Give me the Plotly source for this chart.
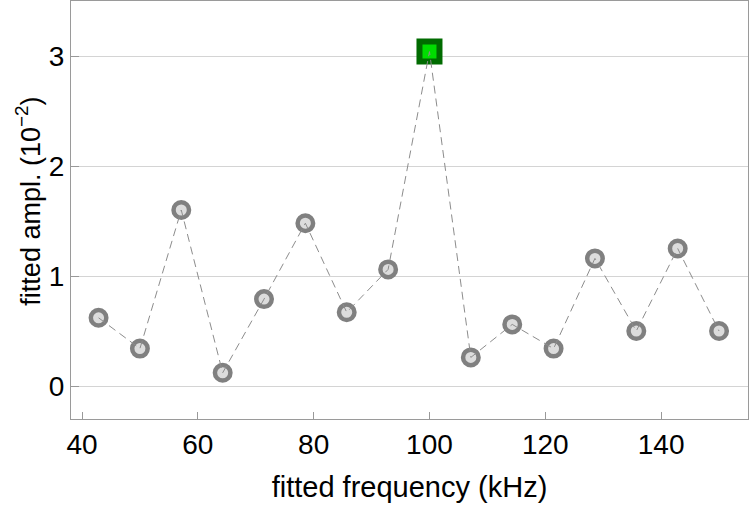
import plotly.graph_objects as go

freq = [42.86, 50.0, 57.14, 64.29, 71.43, 78.57, 85.71, 92.86, 100.0,
        107.14, 114.29, 121.43, 128.57, 135.71, 142.86, 150.0]
ampl = [0.62, 0.34, 1.60, 0.12, 0.79, 1.48, 0.67, 1.06, 3.04,
        0.26, 0.56, 0.34, 1.16, 0.50, 1.25, 0.50]
peak_index = 8
x_ticks = [40, 60, 80, 100, 120, 140]
y_ticks = [0, 1, 2, 3]

others_x = [f for i, f in enumerate(freq) if i != peak_index]
others_y = [a for i, a in enumerate(ampl) if i != peak_index]

fig = go.Figure()
fig.add_trace(go.Scatter(
    x=others_x, y=others_y, mode="markers",
    marker=dict(symbol="circle", size=15.5, color="#dcdcdc",
                line=dict(color="#808080", width=4.5)),
    showlegend=False, hoverinfo="skip"))
fig.add_trace(go.Scatter(
    x=[freq[peak_index]], y=[ampl[peak_index]], mode="markers",
    marker=dict(symbol="square", size=20, color="#00dd00",
                line=dict(color="#006b00", width=6)),
    showlegend=False, hoverinfo="skip"))
fig.add_trace(go.Scatter(
    x=freq, y=ampl, mode="lines",
    line=dict(color="#8c8c8c", width=1, dash="8px,5px"),
    showlegend=False, hoverinfo="skip"))

FAM = "Liberation Sans, Arial, sans-serif"
tick_font = dict(family=FAM, size=28, color="black")
fig.update_layout(
    width=750, height=507,
    margin=dict(l=71, r=2, t=1, b=88),
    paper_bgcolor="white", plot_bgcolor="white",
    font=dict(family=FAM, size=24, color="black"),
    xaxis=dict(range=[38.1, 155.0], tickvals=x_ticks, ticks="inside", ticklen=7,
               tickcolor="#999999", showgrid=False, zeroline=False,
               showline=True, linecolor="#9a9a9a", linewidth=1.2, mirror=True,
               title=dict(text="fitted frequency (kHz)", standoff=17,
                          font=dict(family=FAM, size=29, color="black")),
               tickfont=tick_font),
    yaxis=dict(range=[-0.30, 3.50], tickvals=y_ticks, ticks="inside", ticklen=8,
               tickcolor="#999999", showgrid=True, gridcolor="#d4d4d4", gridwidth=1,
               zeroline=False, showline=True, linecolor="#9a9a9a", linewidth=1.2,
               mirror=True, tickfont=tick_font),
    annotations=[dict(text="fitted ampl. (10<sup>−2</sup>)", textangle=-90,
                      xref="paper", yref="paper", x=0, y=0.52,
                      xanchor="center", yanchor="middle", xshift=-43,
                      showarrow=False,
                      font=dict(family=FAM, size=27, color="black"))],
)
fig.write_html("out.html")
